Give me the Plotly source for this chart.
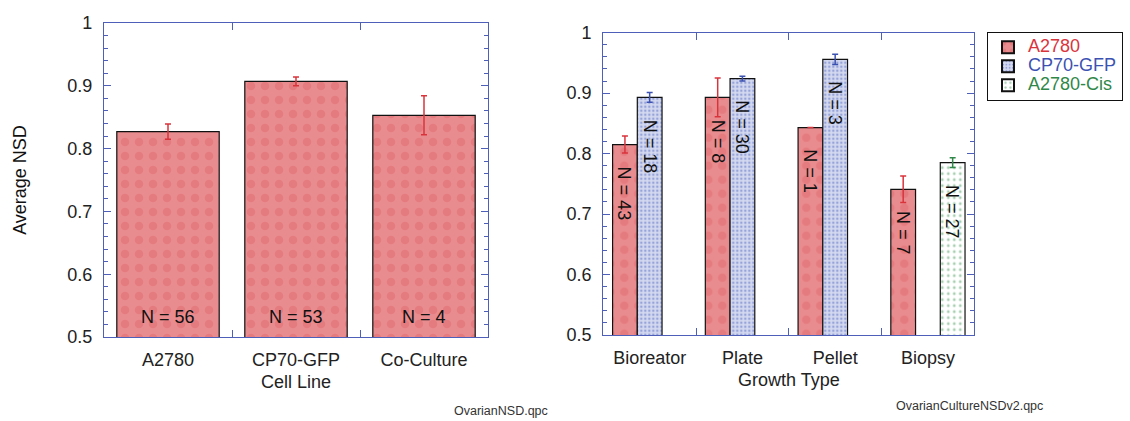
import plotly.graph_objects as go

# ---- NSD by cell line ----
cell_lines = ["A2780", "CP70-GFP", "Co-Culture"]
cell_nsd = [0.827, 0.907, 0.853]
cell_err = [0.012, 0.007, 0.031]
cell_n = [56, 53, 4]

# ---- NSD by growth type ----
growth_types = ["Bioreator", "Plate", "Pellet", "Biopsy"]
a2780_nsd = [0.815, 0.893, 0.843, 0.741]
a2780_err = [0.014, 0.032, None, 0.022]
a2780_n = [43, 8, 1, 7]
cp70_nsd = [0.893, 0.924, 0.956, None]
cp70_err = [0.008, 0.004, 0.0085, None]
cp70_n = [18, 30, 3, None]
cis_nsd = [None, None, None, 0.785]
cis_err = [None, None, None, 0.008]
cis_n = [None, None, None, 27]

FONT = "Liberation Sans, Arial, sans-serif"
AXIS_BLUE = "#4d5fb8"
TEXT = "#222222"
BARGAP = 0.2

RED, BLUE, GREEN = "#d9343c", "#3c52b2", "#2f8748"

styles = {
    "A2780": dict(
        pattern=dict(shape=".", bgcolor="#e98c8f", fgcolor="#df6a70", size=14, solidity=0.3),
        err=RED, label=RED,
    ),
    "CP70-GFP": dict(
        pattern=dict(shape=".", bgcolor="#d3d9ef", fgcolor="#5869c2", size=4, solidity=0.3),
        err=BLUE, label=BLUE,
    ),
    "A2780-Cis": dict(
        pattern=dict(shape=".", bgcolor="#ffffff", fgcolor="#4f9e62", size=6, solidity=0.18),
        err=GREEN, label=GREEN,
    ),
}


def bar_marker(name):
    return dict(color=styles[name]["pattern"]["bgcolor"],
                pattern=styles[name]["pattern"],
                line=dict(color="#111111", width=1.2))


def err(arr, color):
    return dict(type="data", array=arr, color=color, thickness=1.5, width=3, visible=True)


fig = go.Figure()

fig.add_trace(go.Bar(
    x=cell_lines, y=cell_nsd, xaxis="x", yaxis="y",
    marker=bar_marker("A2780"), error_y=err(cell_err, RED),
    showlegend=False, name="A2780",
))

series = [
    ("A2780", a2780_nsd, a2780_err, a2780_n),
    ("CP70-GFP", cp70_nsd, cp70_err, cp70_n),
    ("A2780-Cis", cis_nsd, cis_err, cis_n),
]
for name, vals, errs, _ in series:
    fig.add_trace(go.Bar(
        x=growth_types, y=vals, xaxis="x2", yaxis="y2",
        marker=bar_marker(name), error_y=err(errs, styles[name]["err"]),
        name=(f'<span style="color:{styles[name]["label"]};font-size:18px">'
              f'{name}</span>'),
    ))

annotations = []
# sample counts along the base of the cell-line bars
for i, n in enumerate(cell_n):
    annotations.append(dict(
        x=cell_lines[i], y=0.5, xref="x", yref="y", yanchor="bottom",
        yshift=8, text=f"N = {n}", showarrow=False,
        font=dict(family=FONT, size=18, color="#111111"),
    ))
# rotated sample counts just under the top of each growth-type bar
slot = (1 - BARGAP) / len(series)
for k, (_, vals, _, ns) in enumerate(series):
    for i, (v, n) in enumerate(zip(vals, ns)):
        if n is None:
            continue
        annotations.append(dict(
            x=i + (k - 1) * slot, y=v, xref="x2", yref="y2",
            yanchor="top", yshift=-20, textangle=90,
            text=f"N = {n}", showarrow=False,
            font=dict(family=FONT, size=18, color="#111111"),
        ))
# file names under each panel
annotations.append(dict(x=501 / 1130, y=1 - 411 / 421, xref="paper", yref="paper",
                        xanchor="center", yanchor="middle",
                        text="OvarianNSD.qpc", showarrow=False,
                        font=dict(family=FONT, size=12.5, color="#333333")))
annotations.append(dict(x=969.5 / 1130, y=1 - 406 / 421, xref="paper", yref="paper",
                        xanchor="center", yanchor="middle",
                        text="OvarianCultureNSDv2.qpc", showarrow=False,
                        font=dict(family=FONT, size=12.5, color="#333333")))

common_x = dict(
    type="category", showline=True, linecolor=AXIS_BLUE, linewidth=1.3,
    mirror="ticks", ticks="inside", tickson="boundaries", ticklen=7,
    tickcolor=AXIS_BLUE, tickwidth=1.3, showgrid=False, zeroline=False,
    automargin=False, ticklabelstandoff=6,
    tickfont=dict(family=FONT, size=18, color=TEXT),
)
common_y = dict(
    range=[0.5, 1], dtick=0.1, tick0=0.5, showline=True, linecolor=AXIS_BLUE,
    linewidth=1.3, mirror="ticks", ticks="inside", ticklen=7, tickwidth=1.3,
    tickcolor=AXIS_BLUE, showgrid=False, zeroline=False, ticklabelstandoff=7,
    automargin=False,
    tickfont=dict(family=FONT, size=18, color=TEXT),
    minor=dict(dtick=0.02, ticks="inside", ticklen=4, tickcolor=AXIS_BLUE, tickwidth=1.2),
)

fig.update_layout(
    width=1130, height=421,
    margin=dict(l=0, r=0, t=0, b=0),
    paper_bgcolor="white", plot_bgcolor="white",
    barmode="group", bargap=BARGAP, bargroupgap=0,
    font=dict(family=FONT, size=18, color=TEXT),
    xaxis=dict(common_x, domain=[104 / 1130, 488 / 1130], anchor="y",
               title=dict(text="Cell Line", standoff=6,
                          font=dict(family=FONT, size=18, color=TEXT))),
    yaxis=dict(common_y, domain=[1 - 337 / 421, 1 - 23 / 421], anchor="x",
               title=dict(text="Average NSD", standoff=35,
                          font=dict(family=FONT, size=18, color="#111111"))),
    xaxis2=dict(common_x, domain=[603.3 / 1130, 974.3 / 1130], anchor="y2",
                title=dict(text="Growth Type", standoff=6,
                           font=dict(family=FONT, size=18, color=TEXT))),
    yaxis2=dict(common_y, domain=[1 - 335 / 421, 1 - 32.7 / 421], anchor="x2"),
    legend=dict(
        x=987 / 1130, y=1 - 31.7 / 421, xanchor="left", yanchor="top",
        bordercolor="#111111", borderwidth=1, bgcolor="white",
        font=dict(family=FONT, size=12), traceorder="normal",
        itemsizing="constant",
    ),
    annotations=annotations,
)

fig.write_html("out.html")
